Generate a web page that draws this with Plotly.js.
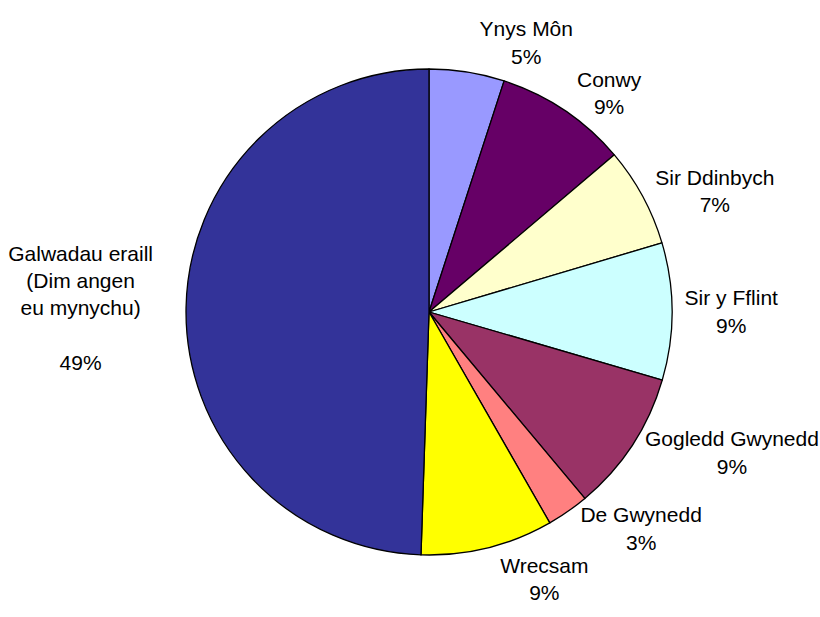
<!DOCTYPE html>
<html>
<head>
<meta charset="utf-8">
<script src="https://cdn.plot.ly/plotly-3.0.1.min.js"></script>
<style>
html,body{margin:0;padding:0;background:#fff;}
#chart{width:820px;height:617px;}
#chart path.textline{display:none;}
</style>
</head>
<body>
<div id="chart"></div>
<script>
const categories = ['Ynys Môn', 'Conwy', 'Sir Ddinbych', 'Sir y Fflint', 'Gogledd Gwynedd', 'De Gwynedd', 'Wrecsam', 'Galwadau eraill (Dim angen eu mynychu)'];
const labelText = ['Ynys Môn', 'Conwy', 'Sir Ddinbych', 'Sir y Fflint', 'Gogledd Gwynedd', 'De Gwynedd', 'Wrecsam', 'Galwadau eraill<br>(Dim angen<br>eu mynychu)<br>'];
const values = [5.0, 8.8, 6.6, 9.1, 9.4, 2.8, 8.8, 49.45];
const colors = ['#9999FF', '#660066', '#FFFFCC', '#CCFFFF', '#993366', '#FF8080', '#FFFF00', '#333399'];

const trace = {
  type: 'pie',
  labels: categories,
  values: values,
  text: labelText,
  texttemplate: '%{text}<br>%{percent:.0%}',
  textposition: 'outside',
  textfont: {family: 'Liberation Sans, Arial, sans-serif', size: 21, color: '#000'},
  marker: {colors: colors, line: {color: '#000', width: 1.3}},
  sort: false,
  direction: 'clockwise',
  rotation: 0,
  hole: 0,
  showlegend: false
};

const layout = {
  width: 820, height: 617,
  margin: {l: 186, r: 148, t: 69, b: 62},
  paper_bgcolor: '#fff',
  plot_bgcolor: '#fff',
  showlegend: false
};

Plotly.newPlot('chart', [trace], layout, {displayModeBar: false, staticPlot: true});
</script>
</body>
</html>
